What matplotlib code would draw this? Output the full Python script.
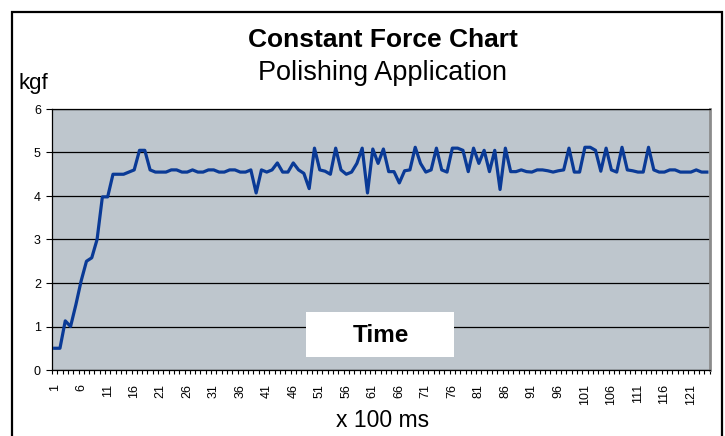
import numpy as np
import matplotlib.pyplot as plt
from matplotlib.patches import Rectangle

plt.rcParams['font.family'] = ['Liberation Sans', 'DejaVu Sans']

# force readings (kgf), one per 100 ms sample
force = [
    0.5, 0.5, 1.13, 1.0, 1.5, 2.05, 2.5, 2.58, 3.0, 3.98,
    3.98, 4.5, 4.5, 4.5, 4.55, 4.6, 5.05, 5.05, 4.6, 4.55,
    4.55, 4.55, 4.6, 4.6, 4.55, 4.55, 4.6, 4.55, 4.55, 4.6,
    4.6, 4.55, 4.55, 4.6, 4.6, 4.55, 4.55, 4.6, 4.07, 4.6,
    4.55, 4.6, 4.76, 4.55, 4.55, 4.76, 4.6, 4.52, 4.17, 5.1,
    4.6, 4.57, 4.5, 5.1, 4.6, 4.5, 4.55, 4.75, 5.1, 4.07,
    5.08, 4.75, 5.08, 4.56, 4.56, 4.3, 4.58, 4.6, 5.12, 4.75,
    4.55, 4.6, 5.1, 4.6, 4.55, 5.1, 5.1, 5.05, 4.56, 5.1,
    4.75, 5.05, 4.56, 5.05, 4.15, 5.1, 4.56, 4.56, 4.6, 4.56,
    4.55, 4.6, 4.6, 4.58, 4.55, 4.58, 4.6, 5.1, 4.55, 4.55,
    5.12, 5.12, 5.05, 4.57, 5.1, 4.6, 4.55, 5.12, 4.6, 4.58,
    4.55, 4.55, 5.12, 4.6, 4.55, 4.55, 4.6, 4.6, 4.55, 4.55,
    4.55, 4.6, 4.55, 4.55,
]
samples = np.arange(1, len(force) + 1)
tick_labels = list(range(1, 122, 5))
y_ticks = list(range(0, 7))

W, H = 725, 436
fig = plt.figure(figsize=(W / 100, H / 100), dpi=100)

def fx(px):
    return px / W

def fy(py):
    return 1 - py / H

ax = fig.add_axes([fx(52), fy(370), fx(709.5 - 52), (370 - 109) / H])
ax.set_facecolor('#bec6cd')
ax.plot(samples, force, color='#0a3a96', lw=2.3, zorder=3)

ax.set_xlim(0.5, len(force) + 0.5)
ax.set_ylim(0, 6)
ax.set_yticks(y_ticks)
ax.yaxis.grid(True, color='black', lw=0.9)
ax.set_axisbelow(True)

ax.set_xticks(tick_labels)
ax.set_xticklabels([str(t) for t in tick_labels], rotation=90, fontsize=9)
ax.set_xticks(np.arange(0.5, len(force) + 1), minor=True)
ax.tick_params(axis='x', which='major', length=0, pad=10)
ax.tick_params(axis='x', which='minor', length=3, width=0.8, direction='out')
ax.tick_params(axis='y', length=4, width=0.8, labelsize=9, pad=4)

for s in ['left', 'bottom', 'top']:
    ax.spines[s].set_color('black')
    ax.spines[s].set_linewidth(0.9)
ax.spines['right'].set_color('#8c8c8c')
ax.spines['right'].set_linewidth(2)

# outer chart frame
fig.add_artist(Rectangle((fx(12), -0.05), fx(722 - 12), fy(12) + 0.05,
                         transform=fig.transFigure, fill=False,
                         ec='black', lw=1.6))

fig.text(fx(383), fy(40), 'Constant Force Chart', ha='center', va='center',
         fontsize=19, fontweight='bold')
fig.text(fx(383), fy(73), 'Polishing Application', ha='center', va='center',
         fontsize=19.5)
fig.text(fx(19), fy(89), 'kgf', ha='left', va='baseline', fontsize=16)
fig.text(fx(383), fy(420), 'x 100 ms', ha='center', va='center', fontsize=16.5)

# "Time" label box inside the plot
fig.add_artist(Rectangle((fx(306), fy(357)), fx(454 - 306), (357 - 312) / H,
                         transform=fig.transFigure, fc='white', ec='none',
                         zorder=5))
fig.text(fx(381), fy(335), 'Time', ha='center', va='center', fontsize=17.5,
         fontweight='bold', zorder=6)

fig.savefig('out.png', dpi=100)
